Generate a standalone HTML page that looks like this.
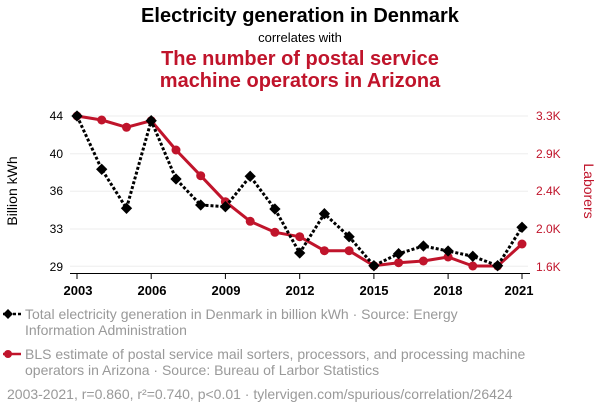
<!DOCTYPE html>
<html><head><meta charset="utf-8"><style>
body{margin:0;background:#fff;width:600px;height:414px;overflow:hidden;font-family:"Liberation Sans",sans-serif}
</style></head><body>
<svg width="600" height="414" xmlns="http://www.w3.org/2000/svg" font-family="Liberation Sans, sans-serif">
<text x="300" y="22" text-anchor="middle" font-size="20" font-weight="bold" fill="#000">Electricity generation in Denmark</text>
<text x="300" y="42" text-anchor="middle" font-size="13" fill="#000">correlates with</text>
<text x="300" y="65" text-anchor="middle" font-size="20" font-weight="bold" fill="#c0142b">The number of postal service</text>
<text x="300" y="87" text-anchor="middle" font-size="20" font-weight="bold" fill="#c0142b">machine operators in Arizona</text>
<g stroke="#eee" stroke-width="1">
<line x1="70" x2="528" y1="116" y2="116"/><line x1="70" x2="528" y1="153.7" y2="153.7"/><line x1="70" x2="528" y1="191.3" y2="191.3"/><line x1="70" x2="528" y1="229" y2="229"/><line x1="70" x2="528" y1="266.3" y2="266.3"/>
</g>
<line x1="70" x2="530" y1="273.5" y2="273.5" stroke="#000" stroke-width="1"/>
<g stroke="#000"><line x1="77" x2="77" y1="273" y2="279"/><line x1="151.2" x2="151.2" y1="273" y2="279"/><line x1="225.4" x2="225.4" y1="273" y2="279"/><line x1="299.7" x2="299.7" y1="273" y2="279"/><line x1="373.9" x2="373.9" y1="273" y2="279"/><line x1="448.1" x2="448.1" y1="273" y2="279"/><line x1="522" x2="522" y1="273" y2="279"/></g>
<g font-size="13" font-weight="bold" text-anchor="middle" fill="#000">
<text x="78" y="295">2003</text><text x="152" y="295">2006</text><text x="226" y="295">2009</text><text x="300" y="295">2012</text><text x="374" y="295">2015</text><text x="448" y="295">2018</text><text x="519" y="295">2021</text>
</g>
<g font-size="12" text-anchor="end" fill="#000">
<text x="63" y="120">44</text><text x="63" y="158">40</text><text x="63" y="195">36</text><text x="63" y="233">33</text><text x="63" y="271">29</text>
</g>
<g font-size="12" fill="#c0142b">
<text x="536" y="120">3.3K</text><text x="536" y="158">2.9K</text><text x="536" y="195">2.4K</text><text x="536" y="233">2.0K</text><text x="536" y="271">1.6K</text>
</g>
<text transform="translate(17,191) rotate(-90)" text-anchor="middle" font-size="14" fill="#000">Billion kWh</text>
<text transform="translate(584,191) rotate(90)" text-anchor="middle" font-size="14" fill="#c0142b">Laborers</text>
<polyline fill="none" stroke="#c0142b" stroke-width="3" stroke-linejoin="round" points="77,116 101.7,120 126.5,127.3 151.2,120.7 176,150 200.7,175.7 225.4,201.7 250.2,221.3 274.9,232.3 299.7,236.7 324.4,250.7 349.1,250.7 373.9,265.7 398.6,262.7 423.4,261 448.1,257 472.8,266 497.6,266 522,244"/>
<g fill="#c0142b"><circle cx="77" cy="116" r="4.5"/><circle cx="101.7" cy="120" r="4.5"/><circle cx="126.5" cy="127.3" r="4.5"/><circle cx="151.2" cy="120.7" r="4.5"/><circle cx="176" cy="150" r="4.5"/><circle cx="200.7" cy="175.7" r="4.5"/><circle cx="225.4" cy="201.7" r="4.5"/><circle cx="250.2" cy="221.3" r="4.5"/><circle cx="274.9" cy="232.3" r="4.5"/><circle cx="299.7" cy="236.7" r="4.5"/><circle cx="324.4" cy="250.7" r="4.5"/><circle cx="349.1" cy="250.7" r="4.5"/><circle cx="373.9" cy="265.7" r="4.5"/><circle cx="398.6" cy="262.7" r="4.5"/><circle cx="423.4" cy="261" r="4.5"/><circle cx="448.1" cy="257" r="4.5"/><circle cx="472.8" cy="266" r="4.5"/><circle cx="497.6" cy="266" r="4.5"/><circle cx="522" cy="244" r="4.5"/></g>
<polyline fill="none" stroke="#000" stroke-width="3" stroke-dasharray="3,2" points="77,116 101.7,169.3 126.5,208.3 151.2,120.7 176,179 200.7,205 225.4,206.7 250.2,176.3 274.9,209 299.7,253 324.4,213.7 349.1,236.7 373.9,265.7 398.6,253.7 423.4,246 448.1,251 472.8,256.3 497.6,265.7 522,227.3"/>
<g fill="#000">
<rect x="-4" y="-4" width="8" height="8" transform="translate(77,116) rotate(45)"/><rect x="-4" y="-4" width="8" height="8" transform="translate(101.7,169.3) rotate(45)"/><rect x="-4" y="-4" width="8" height="8" transform="translate(126.5,208.3) rotate(45)"/><rect x="-4" y="-4" width="8" height="8" transform="translate(151.2,120.7) rotate(45)"/><rect x="-4" y="-4" width="8" height="8" transform="translate(176,179) rotate(45)"/><rect x="-4" y="-4" width="8" height="8" transform="translate(200.7,205) rotate(45)"/><rect x="-4" y="-4" width="8" height="8" transform="translate(225.4,206.7) rotate(45)"/><rect x="-4" y="-4" width="8" height="8" transform="translate(250.2,176.3) rotate(45)"/><rect x="-4" y="-4" width="8" height="8" transform="translate(274.9,209) rotate(45)"/><rect x="-4" y="-4" width="8" height="8" transform="translate(299.7,253) rotate(45)"/><rect x="-4" y="-4" width="8" height="8" transform="translate(324.4,213.7) rotate(45)"/><rect x="-4" y="-4" width="8" height="8" transform="translate(349.1,236.7) rotate(45)"/><rect x="-4" y="-4" width="8" height="8" transform="translate(373.9,265.7) rotate(45)"/><rect x="-4" y="-4" width="8" height="8" transform="translate(398.6,253.7) rotate(45)"/><rect x="-4" y="-4" width="8" height="8" transform="translate(423.4,246) rotate(45)"/><rect x="-4" y="-4" width="8" height="8" transform="translate(448.1,251) rotate(45)"/><rect x="-4" y="-4" width="8" height="8" transform="translate(472.8,256.3) rotate(45)"/><rect x="-4" y="-4" width="8" height="8" transform="translate(497.6,265.7) rotate(45)"/><rect x="-4" y="-4" width="8" height="8" transform="translate(522,227.3) rotate(45)"/>
</g>
<line x1="3" x2="21" y1="314" y2="314" stroke="#000" stroke-width="2.5" stroke-dasharray="3,2"/>
<rect x="-3.5" y="-3.5" width="7" height="7" transform="translate(8,314) rotate(45)" fill="#000"/>
<g font-size="14" fill="#999">
<text x="25" y="319">Total electricity generation in Denmark in billion kWh · Source: Energy</text>
<text x="25" y="335">Information Administration</text>
<text x="25" y="359">BLS estimate of postal service mail sorters, processors, and processing machine</text>
<text x="25" y="375">operators in Arizona · Source: Bureau of Larbor Statistics</text>
<text x="7" y="399">2003-2021, r=0.860, r²=0.740, p&lt;0.01 · tylervigen.com/spurious/correlation/26424</text>
</g>
<line x1="3" x2="21" y1="354" y2="354" stroke="#c0142b" stroke-width="2.5"/>
<circle cx="8" cy="354" r="4" fill="#c0142b"/>
</svg>
</body></html>
